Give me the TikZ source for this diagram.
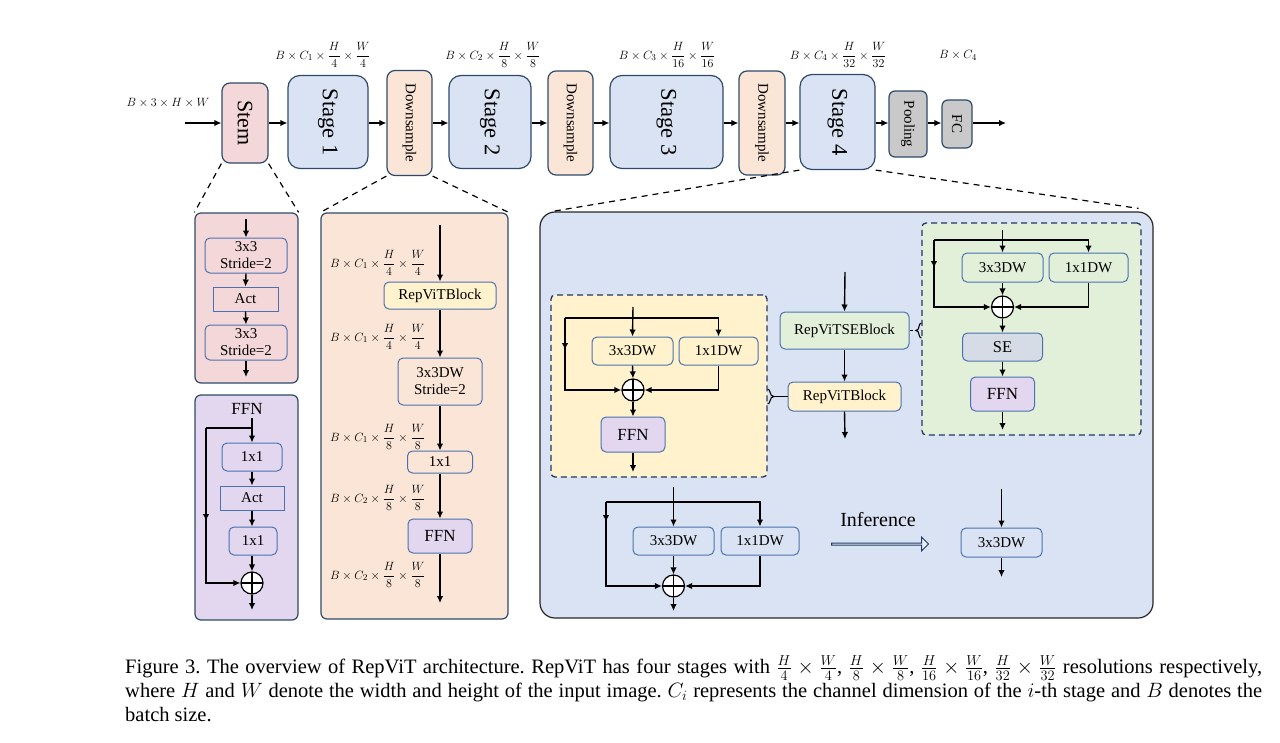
\documentclass[tikz,border=0pt]{standalone}
\usepackage{amsmath}
\usepackage{fontspec}
\setmainfont{Liberation Serif}
\usepackage{graphicx}
\usetikzlibrary{arrows.meta,positioning,calc,shapes.arrows}
\definecolor{rvnavy}{HTML}{2E4A6B}
\definecolor{rvframe}{HTML}{4A72B0}
\definecolor{rvdash}{HTML}{1F3864}
\definecolor{rvpink}{HTML}{F4D7D8}
\definecolor{rvblue}{HTML}{DAE3F3}
\definecolor{rvpeach}{HTML}{FBE5D6}
\definecolor{rvgray}{HTML}{C9C9C9}
\definecolor{rvpurple}{HTML}{E2D7EE}
\definecolor{rvyellow}{HTML}{FFF2CC}
\definecolor{rvgreen}{HTML}{E2F0D9}
\definecolor{rvse}{HTML}{D6DCE5}
\tikzset{rv edge/.style={-{Latex[length=7pt,width=6.5pt]}, line width=1.4pt}}
\tikzset{rv line/.style={line width=1.4pt}}
\tikzset{rv thin/.style={line width=1.1pt}}
\tikzset{rv size/.style 2 args={minimum width=#1pt, minimum height=#2pt}}
\tikzset{rv box/.style={draw=rvframe, line width=1pt, rounded corners=5pt, align=center, inner sep=0pt, font=\fontsize{15}{17}\selectfont}}
\tikzset{rv plain/.style={rv box, rounded corners=0pt}}
\tikzset{rv top/.style={draw=rvnavy, line width=1.2pt, rounded corners=8pt, align=center, inner sep=0pt, font=\fontsize{15}{17}\selectfont}}
\tikzset{rv stage/.style={rv top, fill=rvblue, rounded corners=12pt, font=\fontsize{22.5}{24}\selectfont}}
\tikzset{rv panel/.style={draw=rvnavy, line width=1.2pt, rounded corners=6pt}}
\tikzset{rv zone/.style={draw=rvdash, line width=1.3pt, dash pattern=on 6pt off 4pt, rounded corners=4pt}}
\tikzset{rv zoom/.style={line width=1.2pt, dash pattern=on 6pt off 5pt}}
\tikzset{rv dim/.style={font=\fontsize{13}{15}\selectfont, inner sep=0pt}}
\tikzset{rv add/.style={circle, draw=black, line width=1.2pt, fill=white, minimum size=22pt, inner sep=0pt,
		path picture={\draw[line width=1.2pt] (path picture bounding box.north) -- (path picture bounding box.south)
			(path picture bounding box.west) -- (path picture bounding box.east);}}}

\begin{document}
\begin{tikzpicture}[x=1pt,y=-1pt]
	\useasboundingbox (0,0) rectangle (1280,742);

	% backbone
	\node[rv top, fill=rvpink, font=\fontsize{22}{24}\selectfont, rv size={46}{80}] (stem) at (245,123) {\rotatebox{-90}{Stem}};
	\node[rv stage, rv size={80}{93}] (stage1) at (328,122) {\rotatebox{-90}{Stage 1}};
	\node[rv top, fill=rvpeach, rv size={45}{105}] (ds1) at (409.5,123) {\rotatebox{-90}{Downsample}};
	\node[rv stage, rv size={82}{93}] (stage2) at (490,122) {\rotatebox{-90}{Stage 2}};
	\node[rv top, fill=rvpeach, rv size={45}{104}] (ds2) at (570.5,123) {\rotatebox{-90}{Downsample}};
	\node[rv stage, rv size={113}{93}] (stage3) at (666.5,122) {\rotatebox{-90}{Stage 3}};
	\node[rv top, fill=rvpeach, rv size={46}{104}] (ds3) at (762,123) {\rotatebox{-90}{Downsample}};
	\node[rv stage, rv size={75}{95}] (stage4) at (837.5,122) {\rotatebox{-90}{Stage 4}};
	\node[rv top, fill=rvgray, rounded corners=6pt, rv size={38}{66}] (pool) at (908,124) {\rotatebox{-90}{Pooling}};
	\node[rv top, fill=rvgray, rounded corners=6pt, rv size={30}{48}] (fc) at (957,124) {\rotatebox{-90}{FC}};
	\coordinate (in) at (185,123);
	\coordinate (out) at (1006,123);

	\node[rv dim] (inlab) at (168,103) {$B\times 3\times H\times W$};
	\node[rv dim] (lab1) at (323,55) {$B\times C_1\times\dfrac{H}{4}\times\dfrac{W}{4}$};
	\node[rv dim] (lab2) at (493,55) {$B\times C_2\times\dfrac{H}{8}\times\dfrac{W}{8}$};
	\node[rv dim] (lab3) at (667,55) {$B\times C_3\times\dfrac{H}{16}\times\dfrac{W}{16}$};
	\node[rv dim] (lab4) at (838,55) {$B\times C_4\times\dfrac{H}{32}\times\dfrac{W}{32}$};
	\node[rv dim] (lab5) at (958,55) {$B\times C_4$};

	\draw[rv edge] (in) -- (stem.west |- in);
	\draw[rv edge] (stem.east |- in) -- (stage1.west |- in);
	\draw[rv edge] (stage1.east |- in) -- (ds1.west |- in);
	\draw[rv edge] (ds1.east |- in) -- (stage2.west |- in);
	\draw[rv edge] (stage2.east |- in) -- (ds2.west |- in);
	\draw[rv edge] (ds2.east |- in) -- (stage3.west |- in);
	\draw[rv edge] (stage3.east |- in) -- (ds3.west |- in);
	\draw[rv edge] (ds3.east |- in) -- (stage4.west |- in);
	\draw[rv edge] (stage4.east |- in) -- (pool.west |- in);
	\draw[rv edge] (pool.east |- in) -- (fc.west |- in);
	\draw[rv edge] (fc.east |- in) -- (out);

	% stem
	\node[rv panel, fill=rvpink, rv size={103}{170}] (stpanel) at (246.5,298) {};
	\node[rv box, rv size={82}{35}] (st1) at (246,255.5) {3x3\\Stride=2};
	\node[rv plain, rv size={65}{24}] (stact) at (245.5,299) {Act};
	\node[rv box, rv size={82}{35}] (st2) at (246,342.5) {3x3\\Stride=2};
	\coordinate (stin) at (246,219);
	\coordinate (stout) at (246,377);
	\draw[rv edge] (stin) -- (st1.north);
	\draw[rv edge] (st1.south) -- (stact.north);
	\draw[rv edge] (stact.south) -- (st2.north);
	\draw[rv edge] (st2.south) -- (stout);
	\draw[rv zoom] (stem.south west) -- (stpanel.north west);
	\draw[rv zoom] (stem.south east) -- (stpanel.north east);

	% ffn
	\node[rv panel, fill=rvpurple, rv size={103}{225}] (fpanel) at (246.5,507.5) {};
	\node[font=\fontsize{17}{19}\selectfont, inner sep=0pt] (ftitle) at (247,409) {FFN};
	\node[rv box, rv size={60}{28}] (f1) at (252,457) {1x1};
	\node[rv plain, rv size={64}{24}] (fact) at (252,498) {Act};
	\node[rv box, rv size={48}{28}] (f2) at (253,541) {1x1};
	\node[rv add] (fadd) at (252,583) {};
	\coordinate (fin) at (252,418);
	\coordinate (fsplit) at (252,428);
	\coordinate (fleft) at (206,428);
	\coordinate (fmid) at (206,521);
	\coordinate (fout) at (252,610);
	\draw[rv edge] (fin) -- (f1.north);
	\draw[rv line] (fsplit) -- (fleft);
	\draw[rv edge] (fleft) -- (fmid);
	\draw[rv edge] (fleft) |- (fadd.west);
	\draw[rv edge] (f1.south) -- (fact.north);
	\draw[rv edge] (fact.south) -- (f2.north -| fact.south);
	\draw[rv edge] (f2.south -| fadd) -- (fadd.north);
	\draw[rv edge] (fadd.south) -- (fout);

	% downsample
	\node[rv panel, fill=rvpeach, rv size={187}{406}] (dpanel) at (414.5,416) {};
	\node[rv box, fill=rvyellow, rv size={112}{27}] (d1) at (440,295.5) {RepViTBlock};
	\node[rv box, rv size={84}{47}] (d2) at (440,381.5) {3x3DW\\Stride=2};
	\node[rv box, rv size={65}{22}] (d3) at (440,462) {1x1};
	\node[rv box, fill=rvpurple, font=\fontsize{17}{19}\selectfont, rv size={64}{34}] (d4) at (440,536) {FFN};
	\coordinate (din) at (440,225);
	\coordinate (dout) at (440,603);
	\draw[rv edge] (din) -- (d1.north);
	\draw[rv edge] (d1.south) -- (d2.north);
	\draw[rv edge] (d2.south) -- (d3.north);
	\draw[rv edge] (d3.south) -- (d4.north);
	\draw[rv edge] (d4.south) -- (dout);
	\node[rv dim, anchor=west] (dl1) at (330,263) {$B\times C_1\times\dfrac{H}{4}\times\dfrac{W}{4}$};
	\node[rv dim, anchor=west] (dl2) at (330,337) {$B\times C_1\times\dfrac{H}{4}\times\dfrac{W}{4}$};
	\node[rv dim, anchor=west] (dl3) at (330,437) {$B\times C_1\times\dfrac{H}{8}\times\dfrac{W}{8}$};
	\node[rv dim, anchor=west] (dl4) at (330,498) {$B\times C_2\times\dfrac{H}{8}\times\dfrac{W}{8}$};
	\node[rv dim, anchor=west] (dl5) at (330,575) {$B\times C_2\times\dfrac{H}{8}\times\dfrac{W}{8}$};
	\draw[rv zoom] (ds1.south west) -- (dpanel.north west);
	\draw[rv zoom] (ds1.south east) -- (dpanel.north east);

	% stage detail
	\node[draw=black!85, line width=1.2pt, fill=rvblue, rounded corners=15pt, rv size={613}{406}] (bpanel) at (846.5,415) {};
	\draw[rv zoom] (stage4.south west) -- ($(bpanel.north west)+(13,0)$);
	\draw[rv zoom] (stage4.south east) -- ($(bpanel.north east)+(-15,-3)$);

	\node[rv zone, fill=rvyellow, rv size={216}{182}] (ybox) at (659,386) {};
	\node[rv box, rv size={81}{28}] (y1) at (632.5,351) {3x3DW};
	\node[rv box, rv size={79}{28}] (y2) at (718.5,351) {1x1DW};
	\node[rv add] (yadd) at (633,390) {};
	\node[rv box, fill=rvpurple, font=\fontsize{17}{19}\selectfont, rv size={64}{35}] (yffn) at (633,434.5) {FFN};
	\coordinate (yin) at (633,307);
	\coordinate (yleft) at (565,318);
	\coordinate (ymid) at (565,350);
	\coordinate (yout) at (633,472);
	\draw[rv edge] (yin) -- (y1.north);
	\draw[rv edge] (yleft) -| (y2.north);
	\draw[rv edge] (yleft) -- (ymid);
	\draw[rv edge] (yleft) |- (yadd.west);
	\draw[rv edge] (y2.south) |- (yadd.east);
	\draw[rv edge] (y1.south) -- (yadd.north);
	\draw[rv edge] (yadd.south) -- (yffn.north);
	\draw[rv edge] (yffn.south) -- (yout);

	\node[rv box, fill=rvgreen, rv size={129}{37}] (m1) at (844.5,330.5) {RepViTSEBlock};
	\node[rv box, fill=rvyellow, rv size={113}{29}] (m2) at (844.5,396.5) {RepViTBlock};
	\coordinate (min) at (845,272);
	\coordinate (mout) at (845,439);
	\draw[rv edge] (min) -- (m1.north);
	\draw[rv edge] (m1.south) -- (m2.north);
	\draw[rv edge] (m2.south) -- (mout);

	\node[rv zone, fill=rvgreen, rv size={219}{212}] (gbox) at (1031.5,329) {};
	\node[rv box, rv size={81}{29}] (g1) at (1002.5,267.5) {3x3DW};
	\node[rv box, rv size={79}{29}] (g2) at (1088.5,267.5) {1x1DW};
	\node[rv add] (gadd) at (1002.5,307) {};
	\node[rv box, fill=rvse, font=\fontsize{16.5}{18}\selectfont, rv size={80}{28}] (gse) at (1002.5,347) {SE};
	\node[rv box, fill=rvpurple, font=\fontsize{17}{19}\selectfont, rv size={64}{34}] (gffn) at (1002.5,394) {FFN};
	\coordinate (gin) at (1002.5,230);
	\coordinate (gleft) at (934,240);
	\coordinate (gmid) at (934,268);
	\coordinate (gout) at (1002.5,430);
	\draw[rv edge] (gin) -- (g1.north);
	\draw[rv edge] (gleft) -| (g2.north);
	\draw[rv edge] (gleft) -- (gmid);
	\draw[rv edge] (gleft) |- (gadd.west);
	\draw[rv edge] (g2.south) |- (gadd.east);
	\draw[rv edge] (g1.south) -- (gadd.north);
	\draw[rv edge] (gadd.south) -- (gse.north);
	\draw[rv edge] (gse.south) -- (gffn.north);
	\draw[rv edge] (gffn.south) -- (gout);

	% links to the zoomed blocks
	\coordinate (ytip) at (774,396.5);
	\draw[rv thin] (ybox.east |- 0,389) .. controls (771,389) and (769,396.5) .. (ytip) .. controls (769,396.5) and (771,404) .. (ybox.east |- 0,404);
	\draw[rv thin] (ytip) -- (m2.west);
	\coordinate (gtip) at (916,330.5);
	\draw[rv thin, dash pattern=on 3pt off 2.5pt] (m1.east) -- (gtip);
	\draw[rv thin] (gbox.west |- 0,323) .. controls (918,323) and (920,330.5) .. (gtip) .. controls (920,330.5) and (918,338) .. (gbox.west |- 0,338);

	% reparameterisation
	\node[rv box, rv size={81}{28}] (b1) at (673.5,541) {3x3DW};
	\node[rv box, rv size={78}{28}] (b2) at (760,541) {1x1DW};
	\node[rv add] (badd) at (673.5,586) {};
	\coordinate (bin) at (673.5,487);
	\coordinate (bleft) at (606,502);
	\coordinate (bmid) at (606,522);
	\coordinate (bout) at (673.5,611);
	\draw[rv edge] (bin) -- (b1.north);
	\draw[rv edge] (bleft) -| (b2.north);
	\draw[rv edge] (bleft) -- (bmid);
	\draw[rv edge] (bleft) |- (badd.west);
	\draw[rv edge] (b2.south) |- (badd.east);
	\draw[rv edge] (b1.south) -- (badd.north);
	\draw[rv edge] (badd.south) -- (bout);

	\node[font=\fontsize{20}{22}\selectfont, inner sep=0pt] (infer) at (878,520) {Inference};
	\node[single arrow, draw=rvdash, line width=1pt, fill=rvblue!60!white, minimum height=97pt, minimum width=14pt,
		single arrow head extend=3pt, single arrow head indent=0pt, inner sep=0pt] (fuse) at (879.5,544) {};

	\node[rv box, rv size={81}{29}] (r1) at (1001.5,542.5) {3x3DW};
	\coordinate (rin) at (1001.5,489);
	\coordinate (rout) at (1001.5,577);
	\draw[rv edge] (rin) -- (r1.north);
	\draw[rv edge] (r1.south) -- (rout);

	% caption
	\node[anchor=north west, inner sep=0pt, text width=1137pt, align=justify, font=\fontsize{20.5}{24}\selectfont\frenchspacing] (caption) at (125,655)
	{Figure 3. The overview of RepViT architecture. RepViT has four stages with $\frac{H}{4}\times\frac{W}{4}$, $\frac{H}{8}\times\frac{W}{8}$, $\frac{H}{16}\times\frac{W}{16}$, $\frac{H}{32}\times\frac{W}{32}$ resolutions respectively,\linebreak
	where $H$ and $W$ denote the width and height of the input image. $C_i$ represents the channel dimension of the $i$-th stage and $B$ denotes the\linebreak
	batch size.};
\end{tikzpicture}
\end{document}
